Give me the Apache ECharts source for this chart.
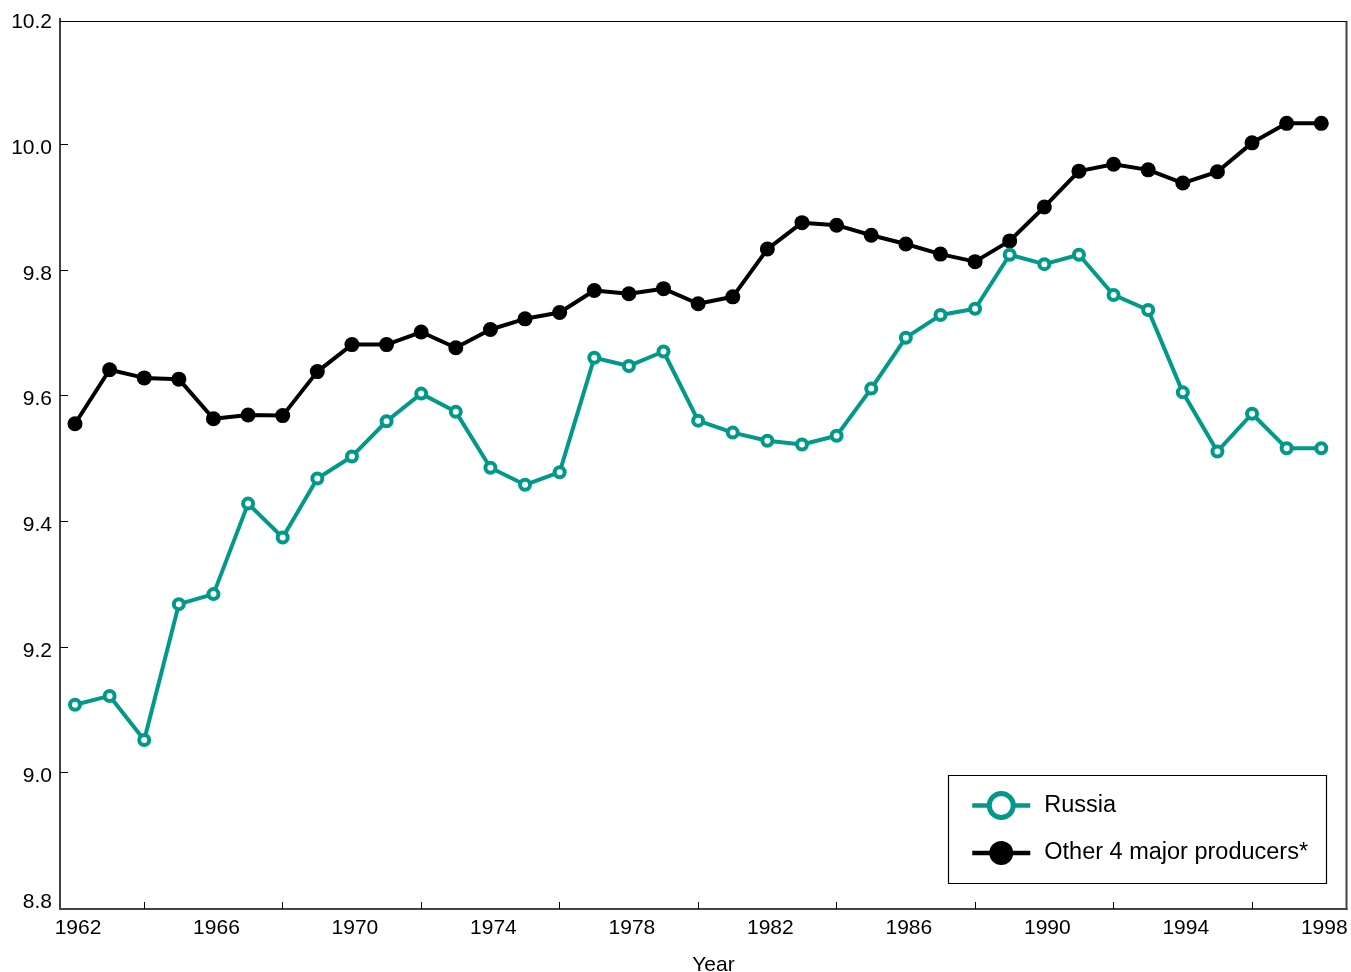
<!DOCTYPE html>
<html>
<head>
<meta charset="utf-8">
<script src="https://cdn.jsdelivr.net/npm/echarts@6/dist/echarts.min.js"></script>
<style>
  html, body { margin: 0; padding: 0; background: #fff; }
  #chart { width: 1351px; height: 972px; }
</style>
</head>
<body>
<div id="chart"></div>
<script>
// Years on the horizontal axis
const years = [];
for (let y = 1962; y <= 1998; y++) years.push(y);

// Russia
const russia = [
  9.108, 9.122, 9.052, 9.268, 9.284, 9.428, 9.374, 9.468, 9.503, 9.559,
  9.603, 9.574, 9.485, 9.458, 9.478, 9.660, 9.647, 9.670, 9.560, 9.541,
  9.528, 9.522, 9.536, 9.611, 9.692, 9.728, 9.738, 9.824, 9.809, 9.824,
  9.760, 9.736, 9.605, 9.511, 9.571, 9.516, 9.516
];

// Other 4 major producers
const others = [
  9.555, 9.641, 9.628, 9.626, 9.563, 9.569, 9.568, 9.638, 9.681, 9.681,
  9.701, 9.676, 9.705, 9.722, 9.732, 9.767, 9.762, 9.770, 9.746, 9.757,
  9.833, 9.875, 9.871, 9.855, 9.841, 9.825, 9.813, 9.846, 9.900, 9.957,
  9.968, 9.959, 9.938, 9.956, 10.002, 10.033, 10.033
];

// Tick labels and tick marks
const xLabelYears = [1962, 1966, 1970, 1974, 1978, 1982, 1986, 1990, 1994, 1998];
const xTickYears = [1964, 1968, 1972, 1976, 1980, 1984, 1988, 1992, 1996];
const yLabelValues = [8.8, 9.0, 9.2, 9.4, 9.6, 9.8, 10.0, 10.2];
const yTickValues = [9.0, 9.2, 9.4, 9.6, 9.8, 10.0];

const X_MIN = 1961.567, X_MAX = 1998.743;
const Y_MIN = 8.783, Y_MAX = 10.2;

const FONT = '"Liberation Sans", Arial, sans-serif';
const TEAL = '#00998A';

const chart = echarts.init(document.getElementById('chart'));

chart.setOption({
  animation: false,
  backgroundColor: '#fff',
  textStyle: { fontFamily: FONT },
  grid: { left: 60, right: 4, top: 18.4, bottom: 63, containLabel: false, outerBoundsMode: 'none' },
  graphic: [{
    type: 'rect',
    z: 3,
    shape: { x: 948.5, y: 775.5, width: 378, height: 108 },
    style: { fill: '#fff', stroke: '#000', lineWidth: 1.2 }
  }, {
    // right edge of the frame
    type: 'line',
    z: 3,
    shape: { x1: 1346.5, y1: 21.4, x2: 1346.5, y2: 909 },
    style: { stroke: '#444', lineWidth: 2 }
  }],
  legend: {
    z: 10,
    orient: 'vertical',
    left: 970,
    top: 791,
    padding: 0,
    itemWidth: 58,
    itemHeight: 30,
    itemGap: 21,
    textStyle: { fontFamily: FONT, fontSize: 23.5, color: '#000', padding: [0, 0, 0, 9] },
    data: [{
      name: 'Russia',
      lineStyle: { color: TEAL, width: 4.5 },
      itemStyle: { color: '#fff', borderColor: TEAL, borderWidth: 5 }
    }, {
      name: 'Other 4 major producers*',
      lineStyle: { color: '#000', width: 4.5 },
      itemStyle: { color: '#000', borderWidth: 0 }
    }]
  },
  xAxis: [{
    type: 'value',
    position: 'bottom',
    min: X_MIN,
    max: X_MAX,
    name: 'Year',
    nameLocation: 'middle',
    nameGap: 46,
    nameTextStyle: { fontFamily: FONT, fontSize: 21, color: '#000', padding: [0, 0, 0, 20] },
    axisLine: { show: true, lineStyle: { color: '#444', width: 2 } },
    axisTick: { show: true, inside: true, length: 7, customValues: xTickYears, lineStyle: { color: '#000', width: 1 } },
    axisLabel: {
      customValues: xLabelYears,
      margin: 9,
      padding: [0, 0, 0, 6],
      fontFamily: FONT, fontSize: 21, color: '#000',
      formatter: v => String(Math.round(v))
    },
    splitLine: { show: false }
  }, {
    // top border of the frame, drawn just inside the 10.2 level
    type: 'value',
    position: 'top',
    offset: -3,
    min: X_MIN,
    max: X_MAX,
    axisLine: { show: true, lineStyle: { color: '#000', width: 1.2 } },
    axisTick: { show: false },
    axisLabel: { show: false },
    splitLine: { show: false }
  }],
  yAxis: [{
    type: 'value',
    position: 'left',
    min: Y_MIN,
    max: Y_MAX,
    axisLine: { show: true, lineStyle: { color: '#000', width: 1.5 } },
    axisTick: { show: true, inside: true, length: 8, customValues: yTickValues, lineStyle: { color: '#000', width: 1 } },
    axisLabel: {
      customValues: yLabelValues,
      margin: 8,
      verticalAlign: 'top',
      lineHeight: 8,
      fontFamily: FONT, fontSize: 21, color: '#000',
      formatter: v => v.toFixed(1)
    },
    splitLine: { show: false }
  }],
  series: [{
    name: 'Russia',
    type: 'line',
    xAxisIndex: 0,
    yAxisIndex: 0,
    data: years.map((y, i) => [y, russia[i]]),
    symbol: 'circle',
    symbolSize: 10,
    showAllSymbol: true,
    lineStyle: { color: TEAL, width: 4 },
    itemStyle: { color: '#fff', borderColor: TEAL, borderWidth: 4 },
    emphasis: { disabled: true },
    z: 5
  }, {
    name: 'Other 4 major producers*',
    type: 'line',
    xAxisIndex: 0,
    yAxisIndex: 0,
    data: years.map((y, i) => [y, others[i]]),
    symbol: 'circle',
    symbolSize: 15,
    showAllSymbol: true,
    lineStyle: { color: '#000', width: 4 },
    itemStyle: { color: '#000', borderWidth: 0 },
    emphasis: { disabled: true },
    z: 4
  }]
});
</script>
</body>
</html>
